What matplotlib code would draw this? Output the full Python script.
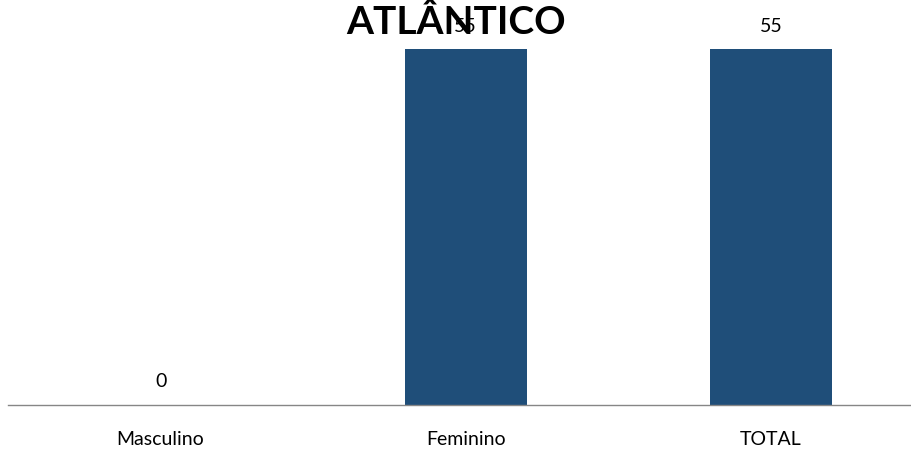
import matplotlib
matplotlib.use("Agg")
import matplotlib.pyplot as plt

categories = ["Masculino", "Feminino", "TOTAL"]
values = [0, 55, 55]
title = "ATLÂNTICO"

plt.rcParams['font.family'] = ['Lato', 'DejaVu Sans']

W, H = 911, 452
fig = plt.figure(figsize=(W / 100, H / 100), dpi=100)
# axes placed in pixel terms: baseline at y=406, left edge at x=8
ax = fig.add_axes([8 / W, (H - 406) / H, 903 / W, 388 / H])

x = list(range(len(categories)))
ax.bar(x, values, width=0.4, color="#1F4E79", zorder=2)
for xi, v in zip(x, values):
    ax.text(xi, v + 2.4, str(v), ha="center", va="bottom", fontsize=14, color="black")

ax.set_xlim(-0.5, 2.5 - 12.5 / 305)
ax.set_ylim(0, 60)
ax.set_xticks(x)
ax.set_xticklabels(categories, fontsize=14)
ax.tick_params(axis="x", length=0, pad=18)
ax.set_yticks([])
for s in ["top", "right", "left"]:
    ax.spines[s].set_visible(False)
ax.spines["bottom"].set_color("#868686")
ax.spines["bottom"].set_linewidth(1)

fig.text(456 / W, 1 - 22 / H, title, ha="center", va="center",
         fontsize=28, fontweight="bold", color="black")

fig.savefig("out.png", dpi=100)
